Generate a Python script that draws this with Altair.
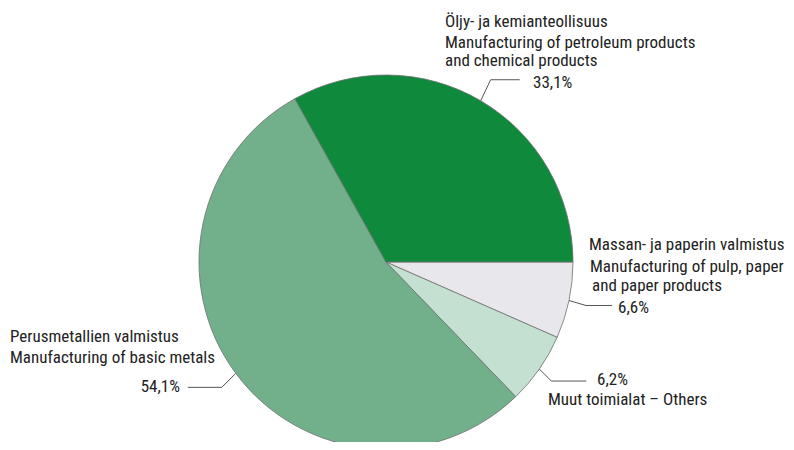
import math
import altair as alt
import pandas as pd

# ---- data ----
names_fi = ["Öljy- ja kemianteollisuus", "Massan- ja paperin valmistus",
            "Muut toimialat – Others", "Perusmetallien valmistus"]
names_en = ["Manufacturing of petroleum products\nand chemical products",
            "Manufacturing of pulp, paper\nand paper products",
            "", "Manufacturing of basic metals"]
values = [33.1, 6.6, 6.2, 54.1]
pct_labels = ["33,1%", "6,6%", "6,2%", "54,1%"]
colors = ["#0f8a3c", "#e8e8ec", "#c3e0d0", "#72b08c"]

# ---- layout (chart pixel coordinates) ----
W, H = 778, 434
CX, CY, R = 378, 254, 187
FONT = "Roboto Condensed, Open Sans Condensed, DejaVu Sans Condensed, Liberation Sans Narrow, Roboto"
FS = 17

# drawing order in Vega (clockwise from 3 o'clock): grey, light, medium, dark
order = [1, 2, 3, 0]
pie = pd.DataFrame({
    "name": [names_fi[i] for i in order],
    "value": [values[i] for i in order],
    "color": [colors[i] for i in order],
    "ord": list(range(4)),
})

# mid angle of each slice (math angle, CCW from east) derived from the values
total = sum(values)
mid = {0: (values[0] / 2) / total * 360}
acc = 0.0
for i in [1, 2, 3]:
    mid[i] = -(acc + values[i] / 2) / total * 360
    acc += values[i]

elbow = {0: (10, -21, 29), 1: (17, 5, 26), 3: (-14, 14, -34), 2: (12, 12, 35)}
rows = []
for i in range(4):
    a = math.radians(mid[i])
    sx, sy = CX + R * math.cos(a), CY - R * math.sin(a)
    dx, dy, L = elbow[i]
    ex, ey = sx + dx, sy + dy
    for k, (x, y) in enumerate([(sx, sy), (ex, ey), (ex + L, ey)]):
        rows.append({"g": i, "k": k, "x": x, "y": y})
leaders = pd.DataFrame(rows)

# text rows (annotation placement)
text_rows = [
    (437, 19, names_fi[0], "left"),
    (437, 40, names_en[0].split("\n")[0], "left"),
    (437, 58, names_en[0].split("\n")[1], "left"),
    (525, 80, pct_labels[0], "left"),
    (581, 242, names_fi[1], "left"),
    (582, 264, names_en[1].split("\n")[0], "left"),
    (584, 283, names_en[1].split("\n")[1], "left"),
    (610, 305, pct_labels[1], "left"),
    (2, 334, names_fi[3], "left"),
    (2, 355, names_en[3], "left"),
    (172, 384, pct_labels[3], "right"),
    (589, 377, pct_labels[2], "left"),
    (540, 397, names_fi[2], "left"),
]
texts = pd.DataFrame(text_rows, columns=["x", "y", "t", "al"])

arc = alt.Chart(pie).mark_arc(
    outerRadius=R, stroke="#707070", strokeWidth=0.8
).encode(
    theta=alt.Theta("value:Q", stack=True,
                    scale=alt.Scale(range=[math.pi / 2, math.pi / 2 + 2 * math.pi])),
    order=alt.Order("ord:Q"),
    color=alt.Color("color:N", scale=None),
    x=alt.value(CX), y=alt.value(CY),
)

lines = alt.Chart(leaders).mark_line(color="#555555", strokeWidth=1).encode(
    x=alt.X("x:Q", scale=None, axis=None),
    y=alt.Y("y:Q", scale=None, axis=None),
    detail="g:N",
    order="k:Q",
)

tl = alt.Chart(texts[texts.al == "left"]).mark_text(
    align="left", baseline="alphabetic", font=FONT, fontSize=FS, color="#222222"
).encode(x=alt.X("x:Q", scale=None), y=alt.Y("y:Q", scale=None), text="t:N")
tr = alt.Chart(texts[texts.al == "right"]).mark_text(
    align="right", baseline="alphabetic", font=FONT, fontSize=FS, color="#222222"
).encode(x=alt.X("x:Q", scale=None), y=alt.Y("y:Q", scale=None), text="t:N")

chart = alt.layer(arc, lines, tl, tr).properties(
    width=W, height=H, padding=0, autosize=alt.AutoSizeParams(type="none")
).configure_view(stroke=None, fill=None)

chart.save("out.html", embed_options={"renderer": "svg", "actions": False})
